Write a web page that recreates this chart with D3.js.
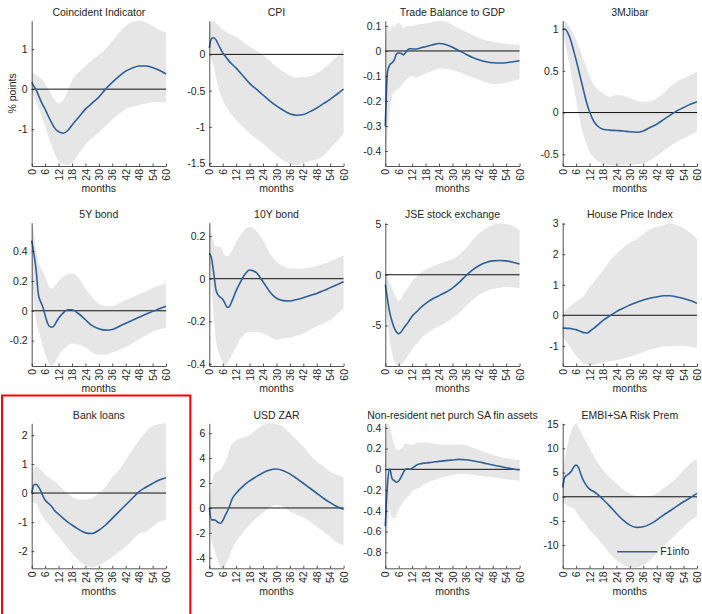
<!DOCTYPE html>
<html>
<head>
<meta charset="utf-8">
<script src="https://cdn.jsdelivr.net/npm/d3@7"></script>
<style>
  body { margin: 0; background: #fff; }
  svg text { font-family: "Liberation Sans", Arial, Helvetica, sans-serif; fill: #262626; }
</style>
</head>
<body>
<svg id="chart" width="702" height="614"></svg>
<script>
// Horizon (months) shared by every response and its error band
const months = [0,1,2,3,4,5,6,7,8,9,10,11,12,14,16,18,21,24,27,30,33,36,39,42,45,48,51,54,57,60];

const titles = ["Coincident Indicator", "CPI", "Trade Balance to GDP", "3MJibar",
                "5Y bond", "10Y bond", "JSE stock exchange", "House Price Index",
                "Bank loans", "USD ZAR", "Non-resident net purch SA fin assets", "EMBI+SA Risk Prem"];

// Coincident Indicator
const coincidentIRF = [0.17,0.07,-0.02,-0.15,-0.28,-0.4,-0.5,-0.62,-0.74,-0.85,-0.95,-1.02,-1.06,-1.1,-1.04,-0.9,-0.7,-0.5,-0.35,-0.2,0.0,0.17,0.32,0.45,0.53,0.58,0.58,0.54,0.47,0.38];
const coincidentHi  = [0.4,0.39,0.36,0.32,0.27,0.22,0.15,0.05,-0.05,-0.15,-0.25,-0.32,-0.35,-0.28,-0.05,0.22,0.42,0.58,0.72,0.85,1.0,1.2,1.4,1.58,1.68,1.71,1.67,1.58,1.48,1.42];
const coincidentLo  = [-0.05,-0.2,-0.32,-0.45,-0.6,-0.77,-0.92,-1.1,-1.27,-1.42,-1.58,-1.7,-1.79,-1.88,-1.9,-1.83,-1.62,-1.38,-1.22,-1.08,-0.92,-0.76,-0.62,-0.5,-0.44,-0.4,-0.36,-0.33,-0.32,-0.33];

// CPI
const cpiIRF = [0.09,0.22,0.23,0.2,0.14,0.08,0.02,-0.02,-0.06,-0.1,-0.13,-0.16,-0.19,-0.26,-0.33,-0.4,-0.48,-0.56,-0.64,-0.71,-0.77,-0.82,-0.84,-0.83,-0.79,-0.74,-0.68,-0.62,-0.55,-0.48];
const cpiHi  = [0.4,0.45,0.46,0.43,0.4,0.37,0.34,0.32,0.3,0.28,0.27,0.25,0.24,0.2,0.15,0.11,0.05,-0.01,-0.09,-0.17,-0.24,-0.29,-0.32,-0.31,-0.3,-0.26,-0.2,-0.12,-0.03,0.08];
const cpiLo  = [0.04,-0.06,-0.17,-0.32,-0.45,-0.55,-0.63,-0.69,-0.74,-0.79,-0.83,-0.87,-0.91,-0.97,-1.03,-1.09,-1.16,-1.23,-1.31,-1.39,-1.46,-1.51,-1.53,-1.5,-1.47,-1.45,-1.4,-1.3,-1.2,-1.09];

// Trade Balance to GDP
const tradeIRF = [-0.3,-0.083,-0.056,-0.047,-0.036,-0.012,-0.008,-0.009,-0.016,-0.007,0.004,0.009,0.008,0.008,0.013,0.017,0.024,0.03,0.026,0.015,0.001,-0.013,-0.026,-0.036,-0.043,-0.047,-0.048,-0.047,-0.043,-0.039];
const tradeHi  = [0.024,0.1,0.077,0.104,0.095,0.108,0.113,0.104,0.09,0.097,0.1,0.1,0.1,0.105,0.108,0.11,0.116,0.12,0.117,0.104,0.09,0.077,0.064,0.051,0.043,0.037,0.032,0.028,0.026,0.024];
const tradeLo  = [-0.46,-0.33,-0.24,-0.18,-0.165,-0.155,-0.15,-0.14,-0.128,-0.118,-0.11,-0.104,-0.1,-0.105,-0.098,-0.09,-0.08,-0.07,-0.071,-0.076,-0.085,-0.096,-0.106,-0.116,-0.125,-0.132,-0.131,-0.127,-0.12,-0.113];

// 3MJibar
const jibarIRF = [1.0,1.0,0.97,0.91,0.83,0.73,0.63,0.52,0.41,0.3,0.19,0.09,0.01,-0.11,-0.17,-0.2,-0.21,-0.215,-0.22,-0.23,-0.235,-0.22,-0.18,-0.14,-0.085,-0.03,0.02,0.06,0.1,0.13];
const jibarHi  = [1.09,1.09,1.07,1.03,0.98,0.93,0.87,0.8,0.73,0.65,0.58,0.5,0.43,0.33,0.27,0.23,0.19,0.21,0.2,0.17,0.14,0.13,0.13,0.17,0.23,0.31,0.37,0.41,0.45,0.49];
const jibarLo  = [0.95,0.84,0.71,0.57,0.43,0.29,0.15,0.01,-0.13,-0.24,-0.33,-0.41,-0.47,-0.54,-0.59,-0.61,-0.63,-0.635,-0.635,-0.63,-0.62,-0.61,-0.57,-0.52,-0.46,-0.4,-0.35,-0.31,-0.27,-0.23];

// 5Y bond
const bond5IRF = [0.47,0.38,0.27,0.11,0.06,0.025,-0.03,-0.08,-0.105,-0.11,-0.1,-0.075,-0.05,-0.016,0.007,0.007,-0.02,-0.06,-0.1,-0.12,-0.13,-0.125,-0.105,-0.083,-0.063,-0.043,-0.024,-0.004,0.013,0.03];
const bond5Hi  = [0.59,0.52,0.4,0.33,0.29,0.26,0.23,0.19,0.155,0.148,0.16,0.18,0.2,0.225,0.245,0.25,0.22,0.15,0.09,0.047,0.03,0.03,0.05,0.07,0.09,0.11,0.13,0.155,0.17,0.186];
const bond5Lo  = [0.18,0.06,-0.065,-0.13,-0.18,-0.24,-0.29,-0.33,-0.36,-0.37,-0.355,-0.33,-0.3,-0.26,-0.235,-0.22,-0.227,-0.245,-0.28,-0.295,-0.293,-0.28,-0.262,-0.245,-0.218,-0.19,-0.165,-0.14,-0.125,-0.114];

// 10Y bond
const bond10IRF = [0.12,0.095,0.025,-0.053,-0.077,-0.088,-0.097,-0.116,-0.135,-0.13,-0.108,-0.083,-0.056,-0.014,0.022,0.041,0.028,-0.014,-0.061,-0.092,-0.103,-0.105,-0.098,-0.089,-0.079,-0.069,-0.056,-0.042,-0.028,-0.014];
const bond10Hi  = [0.263,0.21,0.166,0.15,0.15,0.15,0.13,0.11,0.106,0.11,0.13,0.15,0.174,0.205,0.232,0.244,0.225,0.18,0.12,0.08,0.06,0.048,0.048,0.048,0.054,0.06,0.07,0.08,0.095,0.11];
const bond10Lo  = [0.056,-0.038,-0.18,-0.29,-0.34,-0.366,-0.39,-0.41,-0.4,-0.38,-0.36,-0.34,-0.32,-0.28,-0.258,-0.25,-0.25,-0.257,-0.272,-0.288,-0.28,-0.277,-0.267,-0.257,-0.241,-0.225,-0.21,-0.194,-0.167,-0.139];

// JSE stock exchange
const jseIRF = [-0.98,-2.45,-3.76,-4.58,-5.23,-5.65,-5.82,-5.65,-5.33,-5.02,-4.74,-4.4,-4.08,-3.65,-3.2,-2.84,-2.39,-2.06,-1.73,-1.31,-0.75,-0.1,0.49,0.92,1.21,1.37,1.41,1.37,1.24,1.05];
const jseHi  = [0,-0.33,-0.82,-1.31,-1.8,-2.29,-2.61,-2.39,-1.96,-1.63,-1.31,-0.98,-0.65,-0.2,0.2,0.49,0.82,1.08,1.31,1.54,1.96,2.61,3.43,4.08,4.58,4.9,5.07,5.0,4.8,4.41];
const jseLo  = [-2.45,-4.74,-6.37,-7.68,-8.5,-8.82,-8.99,-8.89,-8.66,-8.33,-8.0,-7.68,-7.35,-6.8,-6.25,-5.88,-5.39,-5.07,-4.74,-4.25,-3.76,-3.1,-2.45,-1.96,-1.63,-1.41,-1.3,-1.21,-1.25,-1.31];

// House Price Index
const houseIRF = [-0.42,-0.42,-0.43,-0.43,-0.44,-0.46,-0.47,-0.5,-0.53,-0.56,-0.57,-0.58,-0.53,-0.42,-0.3,-0.17,-0.02,0.12,0.23,0.34,0.42,0.5,0.56,0.6,0.64,0.64,0.6,0.55,0.48,0.39];
const houseHi  = [0.06,0.13,0.21,0.28,0.33,0.39,0.44,0.5,0.55,0.6,0.7,0.81,0.92,1.1,1.28,1.46,1.78,2.0,2.22,2.38,2.49,2.65,2.81,2.89,2.95,3.0,2.95,2.86,2.7,2.49];
const houseLo  = [-0.69,-0.79,-0.9,-1.0,-1.11,-1.22,-1.33,-1.41,-1.48,-1.55,-1.59,-1.62,-1.64,-1.62,-1.58,-1.55,-1.5,-1.47,-1.42,-1.36,-1.28,-1.21,-1.12,-1.07,-1.01,-1.01,-1.0,-0.99,-1.03,-1.07];

// Bank loans
const loansIRF = [0.0,0.28,0.3,0.22,0.08,-0.1,-0.24,-0.32,-0.39,-0.47,-0.58,-0.66,-0.73,-0.86,-0.99,-1.1,-1.25,-1.37,-1.39,-1.28,-1.1,-0.87,-0.64,-0.41,-0.18,0.05,0.2,0.33,0.45,0.53];
const loansHi  = [0.56,0.85,0.93,0.88,0.8,0.73,0.62,0.57,0.52,0.47,0.41,0.35,0.28,0.13,-0.02,-0.13,-0.22,-0.22,-0.18,-0.01,0.22,0.54,0.79,1.14,1.48,1.82,2.11,2.31,2.37,2.4];
const loansLo  = [-0.3,-0.33,-0.36,-0.52,-0.7,-0.82,-0.93,-1.03,-1.12,-1.22,-1.32,-1.41,-1.5,-1.69,-1.89,-2.08,-2.31,-2.48,-2.56,-2.48,-2.36,-2.19,-2.02,-1.85,-1.62,-1.39,-1.33,-1.16,-0.99,-0.93];

// USD ZAR
const zarIRF = [0.0,-0.96,-0.96,-1.02,-1.18,-1.23,-1.02,-0.64,-0.29,0.11,0.64,0.96,1.18,1.57,1.9,2.17,2.51,2.83,3.05,3.13,2.99,2.73,2.37,1.98,1.58,1.18,0.78,0.43,0.11,-0.11];
const zarHi  = [0.64,1.84,2.65,2.91,2.95,3.1,3.32,3.7,4.12,4.65,5.13,5.3,5.45,5.6,5.72,5.86,6.26,6.66,6.79,6.74,6.52,5.99,5.45,4.92,4.25,3.72,3.37,2.91,2.65,2.46];
const zarLo  = [-1.23,-2.57,-3.24,-3.77,-4.3,-4.71,-4.84,-4.71,-4.3,-3.85,-3.37,-3.0,-2.7,-2.22,-1.76,-1.36,-0.83,-0.37,0.05,0.24,0.11,-0.29,-0.56,-0.75,-1.1,-1.5,-1.9,-2.3,-2.78,-2.97];

// Non-resident net purchases of SA financial assets
const nonresIRF = [-0.55,-0.135,0.003,-0.087,-0.11,-0.125,-0.11,-0.077,-0.032,0.0,0.006,0.0,0.01,0.042,0.055,0.061,0.068,0.077,0.084,0.09,0.096,0.093,0.083,0.071,0.056,0.042,0.029,0.016,0.003,-0.006];
const nonresHi  = [0.122,0.44,0.41,0.315,0.235,0.186,0.19,0.2,0.216,0.248,0.248,0.235,0.235,0.255,0.255,0.26,0.25,0.24,0.235,0.24,0.24,0.235,0.21,0.186,0.162,0.138,0.122,0.106,0.098,0.09];
const nonresLo  = [-0.955,-0.585,-0.39,-0.466,-0.47,-0.44,-0.39,-0.35,-0.31,-0.285,-0.264,-0.24,-0.215,-0.188,-0.165,-0.135,-0.11,-0.087,-0.07,-0.055,-0.045,-0.045,-0.055,-0.064,-0.07,-0.077,-0.087,-0.096,-0.104,-0.11];

// EMBI+SA risk premium
const embiIRF = [1.93,4.14,4.48,4.83,5.38,6.2,6.55,6.07,4.83,3.59,2.76,2.07,1.59,1.03,0.34,-0.55,-1.93,-3.45,-4.83,-5.86,-6.34,-6.2,-5.66,-4.83,-3.79,-2.9,-1.93,-1.03,-0.2,0.69];
const embiHi  = [5.52,8.28,10.34,12.41,13.79,14.83,15.17,14.48,13.45,12.6,11.72,10.86,10.0,8.4,6.9,5.52,4.0,2.76,1.52,0.69,0.14,0.0,0.14,0.69,1.72,2.76,4.0,5.52,6.9,7.72];
const embiLo  = [-1.38,-1.38,-1.72,-2.07,-2.24,-2.41,-3.1,-3.8,-4.48,-5.0,-5.52,-6.2,-6.9,-7.8,-8.8,-10.0,-11.72,-13.1,-14.14,-14.62,-14.62,-14.14,-13.1,-11.72,-10.34,-8.97,-7.59,-6.21,-4.97,-4.14];

// Vertical ranges (tight to the bands) and y tick labels, one entry per panel
const yDomains = [[-1.92,1.71],[-1.54,0.465],[-0.46,0.121],[-0.64,1.1],
                  [-0.37,0.59],[-0.41,0.263],[-8.99,5.13],[-1.66,3.03],
                  [-2.59,2.4],[-4.84,6.79],[-0.955,0.444],[-14.8,15.2]];
const yTicks = [[-1,0,1],[-1.5,-1,-0.5,0],[-0.4,-0.3,-0.2,-0.1,0,0.1],[-0.5,0,0.5,1],
                [-0.2,0,0.2,0.4],[-0.4,-0.2,0,0.2],[-5,0,5],[-1,0,1,2,3],
                [-2,-1,0,1,2],[-4,-2,0,2,4,6],[-0.8,-0.6,-0.4,-0.2,0,0.2,0.4],[-10,-5,0,5,10,15]];
const xTicks = [0,6,12,18,24,30,36,42,48,54,60];
const xLabel = "months";
const yLabel = "% points";
const legendLabel = "F1info";

const irfs  = [coincidentIRF, cpiIRF, tradeIRF, jibarIRF, bond5IRF, bond10IRF, jseIRF, houseIRF, loansIRF, zarIRF, nonresIRF, embiIRF];
const highs = [coincidentHi, cpiHi, tradeHi, jibarHi, bond5Hi, bond10Hi, jseHi, houseHi, loansHi, zarHi, nonresHi, embiHi];
const lows  = [coincidentLo, cpiLo, tradeLo, jibarLo, bond5Lo, bond10Lo, jseLo, houseLo, loansLo, zarLo, nonresLo, embiLo];

// Layout of the 3 x 4 grid
const colLeft = [31.7, 209.3, 385.3, 562.7];
const plotW = 134.3;
const rowTop = [20.7, 222.7, 423.3];
const rowBottom = [166, 366, 568.3];

const ink = "#262626";
const lineColor = "#2d5f9a";
const bandColor = "#e6e6e6";
const fmt = d => String(+d.toFixed(3));

const svg = d3.select("#chart");
svg.append("rect").attr("width", 702).attr("height", 614).attr("fill", "#fff");

titles.forEach((title, i) => {
  const r = Math.floor(i / 4), c = i % 4;
  const h = rowBottom[r] - rowTop[r];
  const g = svg.append("g").attr("transform", `translate(${colLeft[c]},${rowTop[r]})`);

  const x = d3.scaleLinear().domain([0, 60]).range([0, plotW]);
  const y = d3.scaleLinear().domain(yDomains[i]).range([h, 0]);

  const rows = months.map((m, k) => ({ m, v: irfs[i][k], lo: lows[i][k], hi: highs[i][k] }));

  // confidence band
  g.append("path")
    .datum(rows)
    .attr("fill", bandColor)
    .attr("d", d3.area().curve(d3.curveMonotoneX)
      .x(d => x(d.m)).y0(d => y(d.lo)).y1(d => y(d.hi)));

  // zero reference line
  g.append("line")
    .attr("x1", x(0)).attr("x2", x(60))
    .attr("y1", y(0)).attr("y2", y(0))
    .attr("stroke", "#111").attr("stroke-width", 1);

  // impulse response
  g.append("path")
    .datum(rows)
    .attr("fill", "none")
    .attr("stroke", lineColor)
    .attr("stroke-width", 1.6)
    .attr("d", d3.line().curve(d3.curveMonotoneX).x(d => x(d.m)).y(d => y(d.v)));

  // y axis
  const ya = g.append("g")
    .call(d3.axisLeft(y).tickValues(yTicks[i]).tickFormat(fmt)
      .tickSizeInner(-2.5).tickSizeOuter(0).tickPadding(4));
  // x axis
  const xa = g.append("g").attr("transform", `translate(0,${h})`)
    .call(d3.axisBottom(x).tickValues(xTicks).tickFormat(fmt)
      .tickSizeInner(-2.5).tickSizeOuter(0));

  [ya, xa].forEach(a => {
    a.attr("font-size", null).attr("font-family", null).attr("color", ink);
    a.selectAll("path, line").attr("stroke", ink).attr("stroke-width", 0.8);
    a.selectAll("text").style("font-size", "10.5px");
  });
  xa.selectAll("text")
    .attr("transform", "rotate(-90)")
    .attr("text-anchor", "end")
    .attr("x", -3).attr("y", 0).attr("dy", "0.35em");

  // title and axis label
  g.append("text")
    .attr("x", plotW / 2).attr("y", -4.6)
    .attr("text-anchor", "middle")
    .style("font-size", "10.5px")
    .text(title);
  g.append("text")
    .attr("x", plotW / 2).attr("y", h + 26.5)
    .attr("text-anchor", "middle")
    .style("font-size", "10.5px")
    .text(xLabel);

  if (i === 0) {
    g.append("text")
      .attr("transform", `translate(-15.5,${h / 2}) rotate(-90)`)
      .attr("text-anchor", "middle")
      .style("font-size", "10.5px")
      .text(yLabel);
  }

  if (i === titles.length - 1) {
    const ly = h - 16.5;
    g.append("line")
      .attr("x1", 54.5).attr("x2", 94.5).attr("y1", ly).attr("y2", ly)
      .attr("stroke", lineColor).attr("stroke-width", 1.6);
    g.append("text")
      .attr("x", 97.5).attr("y", ly).attr("dy", "0.35em")
      .style("font-size", "10.5px")
      .text(legendLabel);
  }
});

// highlight frame around the Bank loans panel
svg.append("rect")
  .attr("x", 2).attr("y", 395.5)
  .attr("width", 188.3).attr("height", 260)
  .attr("fill", "none")
  .attr("stroke", "#ff0000")
  .attr("stroke-width", 2);
</script>
</body>
</html>
